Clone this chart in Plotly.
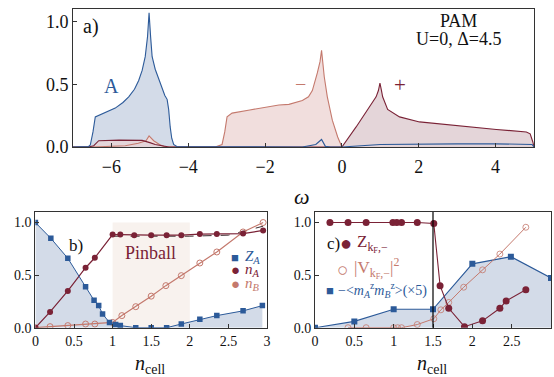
import plotly.graph_objects as go

# ---------------- panel a data (DOS) ----------------
omega_blue = [-7.0, -6.6, -6.55, -6.48, -6.42, -6.34, -6.1, -5.9, -5.7, -5.55, -5.4, -5.29, -5.2, -5.12, -5.06,
              -5.02, -4.98, -4.94, -4.86, -4.77, -4.68, -4.61, -4.55, -4.51, -4.47, -4.43, -4.38, -4.3,
              -1.03, -0.68, -0.53, -0.43, -0.3, 0.0, 1.0, 2.0, 3.0, 4.0, 4.8, 4.95, 5.0]
dos_blue = [0.0, 0.003, 0.016, 0.12, 0.24, 0.25, 0.28, 0.31, 0.355, 0.40, 0.46, 0.53, 0.61, 0.72, 0.88,
            1.07, 0.88, 0.72, 0.62, 0.55, 0.47, 0.41, 0.38, 0.3, 0.16, 0.07, 0.02, 0.004,
            0.0, 0.02, 0.06, 0.005, 0.0, 0.0, 0.02, 0.024, 0.025, 0.025, 0.024, 0.02, 0.0]

omega_minus = [-7.0, -6.5, -5.64, -5.3, -5.1, -5.02, -4.9, -4.75, -4.6, -3.3, -3.12, -3.05, -2.99, -2.86, -2.4,
               -1.9, -1.64, -1.38, -1.03, -0.87, -0.77, -0.64, -0.57, -0.53, -0.49, -0.46, -0.38, -0.25, -0.11, 0.0]
dos_minus = [0.0, 0.0, 0.01, 0.03, 0.05, 0.088, 0.05, 0.02, 0.0, 0.0, 0.02, 0.12, 0.24, 0.27, 0.295,
             0.32, 0.335, 0.34, 0.37, 0.40, 0.45, 0.59, 0.68, 0.77, 0.65, 0.56, 0.40, 0.214, 0.08, 0.0]

omega_plus = [-7.0, -6.6, -6.46, -6.33, -5.8, -5.2, -5.0, -4.86, -4.5, -0.1, 0.0, 0.37, 0.71, 0.89, 0.95, 0.99,
              1.03, 1.06, 1.19, 1.5, 2.02, 3.02, 4.02, 4.8, 4.9, 4.97, 5.0]
dos_plus = [0.0, 0.0, 0.01, 0.05, 0.055, 0.053, 0.035, 0.02, 0.0, 0.0, 0.0, 0.16, 0.32, 0.40, 0.45, 0.51,
            0.45, 0.40, 0.30, 0.24, 0.20, 0.167, 0.14, 0.12, 0.105, 0.04, 0.0]

# ---------------- panel b data ----------------
ncell_ZA = [0.0, 0.2, 0.42, 0.65, 0.76, 0.82, 0.87, 0.96, 1.04, 1.1, 1.3, 1.5, 1.7, 1.89, 2.13, 2.35, 2.69, 2.94]
ZA = [1.0, 0.85, 0.66, 0.39, 0.26, 0.21, 0.13, 0.05, 0.03, 0.02, 0.0, 0.0, 0.0, 0.035, 0.08, 0.115, 0.16, 0.21]

ncell_nA = [0.0, 0.19, 0.42, 0.65, 0.77, 1.0, 1.1, 1.28, 1.5, 1.7, 1.89, 2.13, 2.35, 2.69, 2.95]
nA = [0.0, 0.15, 0.35, 0.57, 0.665, 0.885, 0.885, 0.88, 0.88, 0.88, 0.88, 0.89, 0.89, 0.895, 0.925]

ncell_nB = [0.0, 0.19, 0.42, 0.65, 0.77, 1.0, 1.12, 1.3, 1.5, 1.69, 1.89, 2.13, 2.35, 2.69, 2.95]
nB = [0.0, 0.01, 0.02, 0.035, 0.035, 0.05, 0.115, 0.2, 0.3, 0.4, 0.495, 0.615, 0.72, 0.91, 1.0]

ncell_dash = [1.0, 1.5, 2.0, 2.5, 2.95]
n_dash = [0.87, 0.868, 0.87, 0.88, 0.965]

pinball_range = [1.0, 2.0]
pinball_top = 1.0

# ---------------- panel c data ----------------
ncell_Z = [0.19, 0.42, 0.65, 0.99, 1.04, 1.1, 1.3, 1.51, 1.59, 1.7, 1.9, 2.13, 2.35, 2.43, 2.68]
Zkf = [1.0, 1.0, 1.0, 1.0, 1.0, 1.0, 1.0, 0.99, 0.4, 0.185, 0.01, 0.065, 0.185, 0.255, 0.36]

ncell_V = [0.42, 0.65, 1.0, 1.05, 1.1, 1.3, 1.51, 1.6, 1.7, 1.89, 2.13, 2.35, 2.68]
V2 = [0.0, 0.0, 0.0, 0.0, 0.0, 0.03, 0.085, 0.17, 0.24, 0.385, 0.55, 0.70, 0.955]

ncell_m = [0.0, 0.5, 1.0, 1.5, 2.0, 2.49, 3.0]
mm5 = [0.0, 0.06, 0.175, 0.175, 0.607, 0.675, 0.473]

vline_c = 1.5

# ---------------- styles ----------------
BLUE = "#2c5a99"
DRED = "#7a2236"
SALM = "#c4796d"
BFILL = "#d3dbe8"
PFILL = "#f1dedd"
DFILL = "#e4d5d9"
FONT = "'Liberation Serif', 'Times New Roman', 'DejaVu Serif', serif"
W, H = 554, 377

fig = go.Figure()

# panel a fills
fig.add_trace(go.Scatter(x=omega_blue, y=dos_blue, mode="lines", line=dict(width=0), fill="tozeroy",
                         fillcolor=BFILL, xaxis="x", yaxis="y", showlegend=False))
fig.add_trace(go.Scatter(x=omega_minus, y=dos_minus, mode="lines", line=dict(width=0), fill="tozeroy",
                         fillcolor=PFILL, xaxis="x", yaxis="y", showlegend=False))
fig.add_trace(go.Scatter(x=omega_plus, y=dos_plus, mode="lines", line=dict(width=0), fill="tozeroy",
                         fillcolor=DFILL, xaxis="x", yaxis="y", showlegend=False))
# panel a lines
fig.add_trace(go.Scatter(x=omega_minus, y=dos_minus, mode="lines", line=dict(color=SALM, width=1.1),
                         xaxis="x", yaxis="y", showlegend=False))
fig.add_trace(go.Scatter(x=omega_plus, y=dos_plus, mode="lines", line=dict(color=DRED, width=1.1),
                         xaxis="x", yaxis="y", showlegend=False))
fig.add_trace(go.Scatter(x=omega_blue, y=dos_blue, mode="lines", line=dict(color=BLUE, width=1.1),
                         xaxis="x", yaxis="y", showlegend=False))

# panel b
fig.add_trace(go.Scatter(x=ncell_ZA, y=ZA, mode="lines", line=dict(width=0), fill="tozeroy",
                         fillcolor=BFILL, xaxis="x2", yaxis="y2", showlegend=False))
fig.add_trace(go.Scatter(x=ncell_dash, y=n_dash, mode="lines", line=dict(color="#3a2a2e", width=1, dash="dash"),
                         xaxis="x2", yaxis="y2", showlegend=False))
fig.add_trace(go.Scatter(x=ncell_nB, y=nB, mode="lines+markers", line=dict(color=SALM, width=1.2),
                         marker=dict(symbol="circle-open", size=6, color=SALM, line=dict(width=1)),
                         xaxis="x2", yaxis="y2", showlegend=False))
fig.add_trace(go.Scatter(x=ncell_nA, y=nA, mode="lines+markers", line=dict(color=DRED, width=1.2),
                         marker=dict(symbol="circle", size=6, color=DRED),
                         xaxis="x2", yaxis="y2", showlegend=False))
fig.add_trace(go.Scatter(x=ncell_ZA, y=ZA, mode="lines+markers", line=dict(color=BLUE, width=1),
                         marker=dict(symbol="square", size=5.5, color=BLUE),
                         xaxis="x2", yaxis="y2", showlegend=False))

# panel c
fig.add_trace(go.Scatter(x=ncell_m, y=mm5, mode="lines", line=dict(width=0), fill="tozeroy",
                         fillcolor=BFILL, xaxis="x3", yaxis="y3", showlegend=False))
fig.add_trace(go.Scatter(x=ncell_m, y=mm5, mode="lines+markers", line=dict(color=BLUE, width=1.1),
                         marker=dict(symbol="square", size=6, color=BLUE),
                         xaxis="x3", yaxis="y3", showlegend=False))
fig.add_trace(go.Scatter(x=ncell_V, y=V2, mode="lines+markers", line=dict(color=SALM, width=1),
                         marker=dict(symbol="circle-open", size=6, color=SALM, line=dict(width=0.8)),
                         xaxis="x3", yaxis="y3", showlegend=False))
fig.add_trace(go.Scatter(x=ncell_Z, y=Zkf, mode="lines+markers", line=dict(color=DRED, width=1.1),
                         marker=dict(symbol="circle", size=7, color=DRED),
                         xaxis="x3", yaxis="y3", showlegend=False))


def px_x(p):
    return p / W


def px_y(p):
    return 1 - p / H


axis_common = dict(showline=True, mirror=True, linecolor="#333", linewidth=1, ticks="inside",
                   ticklen=4, tickcolor="#333", showgrid=False, zeroline=False, automargin=False)

fig.update_layout(
    width=W, height=H, margin=dict(l=0, r=0, t=0, b=0, autoexpand=False),
    paper_bgcolor="white", plot_bgcolor="white",
    font=dict(family=FONT, color="#111"),
    xaxis=dict(axis_common, domain=[px_x(73), px_x(534)], range=[-7, 5], tickvals=[-6, -4, -2, 0, 2, 4],
               ticktext=["\u22126", "\u22124", "\u22122", "0", "2", "4"], anchor="y",
               tickfont=dict(family=FONT, size=18, color="#111"), ticklabelstandoff=3),
    yaxis=dict(axis_common, domain=[px_y(147), px_y(9)], range=[0, 1.1], tickvals=[0, 0.5, 1.0],
               ticktext=["0.0", "0.5", "1.0"], anchor="x",
               tickfont=dict(family=FONT, size=18, color="#111")),
    xaxis2=dict(axis_common, domain=[px_x(35.4), px_x(267)], range=[0, 3], tickvals=[0, 0.5, 1, 1.5, 2, 2.5, 3],
                ticktext=["0", "0.5", "1", "1.5", "2", "2.5", "3"], anchor="y2",
                tickfont=dict(family=FONT, size=14, color="#111")),
    yaxis2=dict(axis_common, domain=[px_y(327.7), px_y(212)], range=[0, 1.1], tickvals=[0, 0.5, 1.0],
                ticktext=["0.0", "0.5", "1.0"], anchor="x2",
                tickfont=dict(family=FONT, size=14, color="#111")),
    xaxis3=dict(axis_common, domain=[px_x(315), px_x(551)], range=[0, 3], tickvals=[0, 0.5, 1, 1.5, 2, 2.5, 3],
                ticktext=["0", "0.5", "1", "1.5", "2", "2.5", "3"], anchor="y3",
                tickfont=dict(family=FONT, size=14, color="#111")),
    yaxis3=dict(axis_common, domain=[px_y(327.7), px_y(212)], range=[0, 1.1], tickvals=[0, 0.5, 1.0],
                ticktext=["0.0", "0.5", "1.0"], anchor="x3",
                tickfont=dict(family=FONT, size=14, color="#111")),
)

fig.add_shape(type="rect", xref="x2", yref="y2", x0=pinball_range[0], x1=pinball_range[1], y0=0, y1=pinball_top,
              fillcolor="#f8f2ee", line=dict(width=0), layer="below")
fig.add_shape(type="line", xref="x3", yref="y3 domain", x0=vline_c, x1=vline_c, y0=0, y1=1,
              line=dict(color="black", width=1.2))


def ann(text, x, y, size, color="#111", xanchor="center", yanchor="middle"):
    fig.add_annotation(text=text, x=px_x(x), y=px_y(y), xref="paper", yref="paper", showarrow=False,
                       font=dict(family=FONT, size=size, color=color), xanchor=xanchor, yanchor=yanchor)


ann("a)", 81, 27, 20, xanchor="left")
ann("A", 112, 86, 20, color=BLUE)
ann("\u2212", 300, 84, 20, color=SALM)
ann("+", 400, 85, 21, color=DRED)
ann("PAM", 458, 21, 18)
ann("U=0, \u0394=4.5", 458, 39, 18)
ann("<i>\u03c9</i>", 302, 196, 22)

ann("b)", 76, 245, 17)
ann("Pinball", 150, 253, 18, color=DRED)
ann("\u25a0", 235, 257, 13, color=BLUE)
ann("<i>Z<sub>A</sub></i>", 243, 257, 15, color=BLUE, xanchor="left")
ann("\u25cf", 235, 270, 15, color=DRED)
ann("<i>n<sub>A</sub></i>", 243, 270, 15, color=DRED, xanchor="left")
ann("\u25cf", 235, 284, 15, color=SALM)
ann("<i>n<sub>B</sub></i>", 243, 284, 15, color=SALM, xanchor="left")
ann("<i>n</i><sub>cell</sub>", 150, 364, 20)

ann("c)", 333, 243, 17)
ann("\u25cf", 346, 243, 20, color=DRED)
ann("Z<sub>k<sub>F</sub>,\u2212</sub>", 355, 243, 17, color=DRED, xanchor="left")
ann("\u25cb", 342, 269, 19, color=SALM)
ann("|V<sub>k<sub>F</sub>,\u2212</sub>|<sup>2</sup>", 352, 268, 17, color=SALM, xanchor="left")
ann("\u25a0", 330, 290, 13, color=BLUE)
ann("\u2212&lt;<i>m<sub>A</sub></i><sup>z</sup><i>m<sub>B</sub></i><sup>z</sup>&gt;(\u00d75)", 336, 290, 14,
    color=BLUE, xanchor="left")
ann("<i>n</i><sub>cell</sub>", 432, 364, 20)

fig.write_html("out.html", config={"displayModeBar": False},
               post_script="document.body.style.margin='0px';")
